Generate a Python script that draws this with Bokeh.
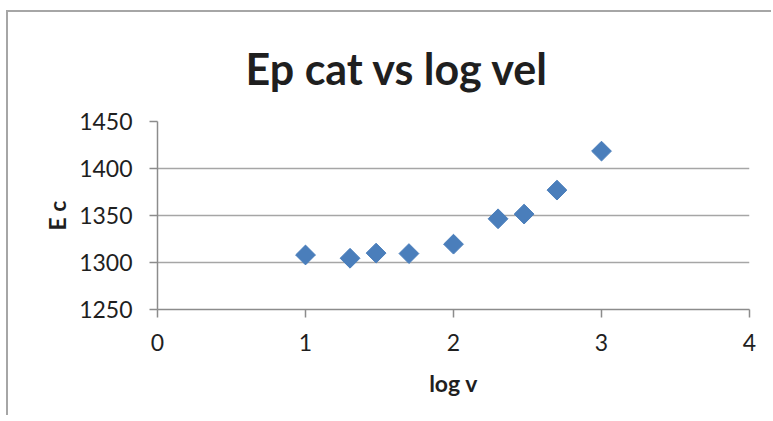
from bokeh.plotting import figure
from bokeh.models import Range1d, FixedTicker
from bokeh.embed import file_html
from bokeh.resources import INLINE

# data
log_v = [1.0, 1.301, 1.477, 1.699, 2.0, 2.301, 2.477, 2.699, 3.0]
e_c = [1308, 1304.5, 1310, 1309.5, 1319.5, 1346.5, 1351.5, 1377, 1418.5]
x_ticks = [0, 1, 2, 3, 4]
y_ticks = [1250, 1300, 1350, 1400, 1450]

FONT = "Lato"
TXT = "#1f1f1f"
GRID = "#a6a6a6"
AXIS = "#8c8c8c"

p = figure(width=765, height=405, output_backend="svg", toolbar_location=None,
           x_range=Range1d(0, 4), y_range=Range1d(1250, 1450),
           min_border_left=149, min_border_right=24, min_border_top=108,
           min_border_bottom=108, title="Ep cat vs log vel")
p.styles = {"border-top": "2px solid #a6a6a6", "border-left": "2px solid #a6a6a6",
            "margin-left": "6px", "margin-top": "10px"}
p.outline_line_color = None

p.title.align = "left"
p.title.offset = 88
p.title.text_font = FONT
p.title.text_font_size = "43px"
p.title.text_font_style = "bold"
p.title.text_color = TXT
p.title.standoff = 56

p.scatter(log_v, e_c, marker="square", size=14, angle=45, angle_units="deg",
          fill_color="#4a7ebb", line_color="#4a7ebb")

p.xaxis.ticker = FixedTicker(ticks=x_ticks)
p.yaxis.ticker = FixedTicker(ticks=y_ticks)
p.xgrid.visible = False
p.ygrid.grid_line_color = GRID
p.ygrid.grid_line_width = 1.5

for ax in (p.xaxis[0], p.yaxis[0]):
    ax.axis_line_color = AXIS
    ax.axis_line_width = 1.5
    ax.major_tick_line_color = AXIS
    ax.major_tick_line_width = 1.5
    ax.major_tick_in = 0
    ax.major_tick_out = 8
    ax.minor_tick_line_color = None
    ax.major_label_text_font = FONT
    ax.major_label_text_font_size = "23px"
    ax.major_label_text_color = TXT
    ax.axis_label_text_font = FONT
    ax.axis_label_text_font_size = "23px"
    ax.axis_label_text_font_style = "bold"
    ax.axis_label_text_color = TXT

p.xaxis.axis_label = "log v"
p.yaxis.axis_label = "E c"
p.xaxis.major_label_standoff = 16
p.yaxis.major_label_standoff = 17
p.xaxis.axis_label_standoff = 15
p.yaxis.axis_label_standoff = 5

open("out.html", "w").write(file_html(p, INLINE))
